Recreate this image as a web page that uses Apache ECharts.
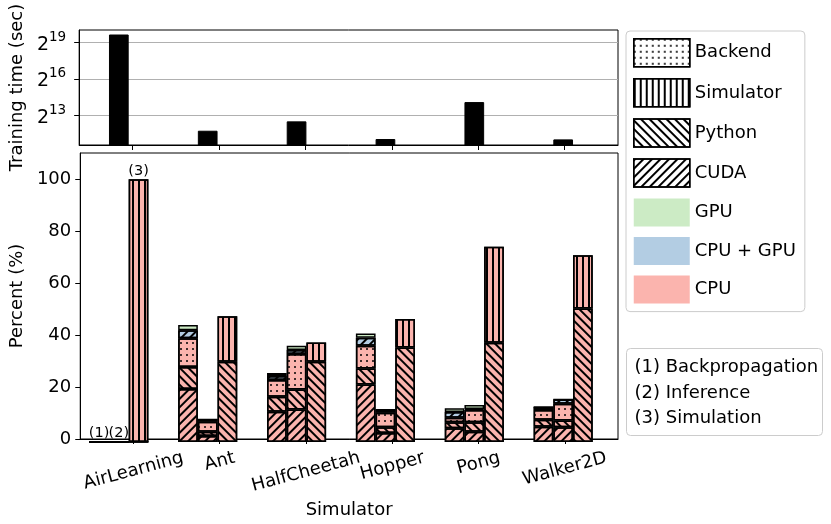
<!DOCTYPE html>
<html>
<head>
<meta charset="utf-8">
<script src="https://cdn.jsdelivr.net/npm/echarts@6.0.0/dist/echarts.min.js"></script>
<style>html,body{margin:0;padding:0;background:#fff}#c{width:831px;height:524px}</style>
</head>
<body>
<div id="c"></div>
<script>
// ---------------- data ----------------
const simulators = ['AirLearning', 'Ant', 'HalfCheetah', 'Hopper', 'Pong', 'Walker2D'];
const trainingTimeSec = [811400, 3420, 5830, 2135, 17440, 2090];
const timeTickValues = [8192, 65536, 524288];           // 2^13, 2^16, 2^19
const percentTicks = [0, 20, 40, 60, 80, 100];
const phaseNames = ['(1) Backpropagation', '(2) Inference', '(3) Simulation'];
const phaseTags = ['(1)', '(2)', '(3)'];
// (1) Backpropagation: segment heights (%)
const bpCuda    = [0, 20.2, 11.5, 21.9, 5.2, 5.8];
const bpPython  = [0, 8.3, 5.7, 6.1, 2.3, 2.7];
const bpBackend = [0, 11.0, 6.4, 8.6, 1.7, 3.7];
const bpCpuGpu  = [0, 3.0, 1.5, 3.1, 2.2, 1.1];
const bpGpu     = [0, 2.0, 1.2, 1.6, 1.4, 0];
// (2) Inference
const infCuda    = [0, 2.3, 12.4, 3.4, 3.9, 5.6];
const infPython  = [0, 1.6, 7.6, 2.2, 3.6, 2.6];
const infBackend = [0, 3.8, 13.5, 5.5, 4.7, 6.4];
const infCpuGpu  = [0, 0.9, 1.5, 1.2, 0.4, 1.6];
const infGpu     = [0, 0, 1.6, 0, 1.5, 0];
// (3) Simulation
const simPython    = [0, 30.5, 30.5, 36.0, 37.8, 50.8];
const simSimulator = [100, 17.4, 7.4, 10.8, 36.5, 20.3];

// ---------------- style / layout ----------------
const FONT = 'DejaVu Sans';
const PINK = '#fbb4ae', BLUE = '#b3cde3', GREEN = '#ccebc5';
const BW = 19.7;
const X_MIN = -0.617, X_MAX = 5.617;
const FRAME_LEFT = 64, FRAME_W = 554;
const UNIT = FRAME_W / (X_MAX - X_MIN);
const DATA_LEFT = FRAME_LEFT + (-0.5 - X_MIN) * UNIT, DATA_W = simulators.length * UNIT;
const TOP = {top: 30, height: 115}, BOT = {top: 153, height: 289};
const T_MIN = 1520, T_MAX = 1048576, P_MIN = 0, P_MAX = 110;
const LABEL_ROT = 15 * Math.PI / 180;

const decals = {
  cuda:      {symbol: 'rect', symbolSize: 1, dashArrayX: [1, 0], dashArrayY: [1.5, 3.5], rotation: -Math.PI / 4, color: '#000'},
  python:    {symbol: 'rect', symbolSize: 1, dashArrayX: [1, 0], dashArrayY: [1.5, 3.5], rotation: Math.PI / 4, color: '#000'},
  simulator: {symbol: 'rect', symbolSize: 1, dashArrayX: [1.5, 3.5], dashArrayY: [1, 0], rotation: 0, color: '#000'},
  backend:   {symbol: 'circle', symbolSize: 1, dashArrayX: [2, 4], dashArrayY: [2, 4], rotation: 0, color: '#000'}
};

function seg(name, stack, arr, color, decal, tag) {
  const data = arr.map((v, i) => {
    if (tag && i === 0) {
      return {value: v, label: {show: true, position: 'top', distance: 1, formatter: tag,
        fontSize: 14.5, fontFamily: FONT, color: '#000'}};
    }
    return v;
  });
  return {
    name: name, type: 'bar', stack: stack, xAxisIndex: 3, yAxisIndex: 3,
    barWidth: BW, barGap: '0%',
    itemStyle: {color: color, borderColor: '#000', borderWidth: 1.5, decal: decal || null},
    emphasis: {disabled: true},
    data: data
  };
}
function legendProxy(name, color, decal, bordered) {
  return {
    name: name, type: 'bar', stack: 'T', xAxisIndex: 2, yAxisIndex: 2, barWidth: BW, data: [],
    itemStyle: {color: color, borderColor: bordered ? '#000' : color, borderWidth: bordered ? 1.5 : 0, decal: decal || null}
  };
}

const catTicks = simulators.map((s, i) => i);
const frameX = {
  type: 'value', min: X_MIN, max: X_MAX,
  axisLine: {show: true, onZero: false, lineStyle: {color: '#000', width: 1}},
  axisTick: {show: true, length: 5, inside: false, customValues: catTicks, lineStyle: {color: '#000', width: 1}},
  axisLabel: {show: false},
  splitLine: {show: false}
};
const hiddenAxis = {show: false, axisLine: {show: false}, axisTick: {show: false}, axisLabel: {show: false}, splitLine: {show: false}};

const series = [
  {name: 'time', type: 'bar', stack: 'T', xAxisIndex: 2, yAxisIndex: 2, barWidth: BW,
   itemStyle: {color: '#000', borderColor: '#000', borderWidth: 1}, emphasis: {disabled: true},
   data: trainingTimeSec},
  legendProxy('Backend', '#fff', decals.backend, true),
  legendProxy('Simulator', '#fff', decals.simulator, true),
  legendProxy('Python', '#fff', decals.python, true),
  legendProxy('CUDA', '#fff', decals.cuda, true),
  legendProxy('GPU', GREEN, null, false),
  legendProxy('CPU + GPU', BLUE, null, false),
  legendProxy('CPU', PINK, null, false),
  seg('bp-cuda', 'bp', bpCuda, PINK, decals.cuda),
  seg('bp-python', 'bp', bpPython, PINK, decals.python),
  seg('bp-backend', 'bp', bpBackend, PINK, decals.backend),
  seg('bp-cpugpu', 'bp', bpCpuGpu, BLUE, decals.cuda),
  seg('bp-gpu', 'bp', bpGpu, GREEN, null, phaseTags[0]),
  seg('inf-cuda', 'inf', infCuda, PINK, decals.cuda),
  seg('inf-python', 'inf', infPython, PINK, decals.python),
  seg('inf-backend', 'inf', infBackend, PINK, decals.backend),
  seg('inf-cpugpu', 'inf', infCpuGpu, BLUE, decals.cuda),
  seg('inf-gpu', 'inf', infGpu, GREEN, null, phaseTags[1]),
  seg('sim-python', 'sim', simPython, PINK, decals.python),
  seg('sim-simulator', 'sim', simSimulator, PINK, decals.simulator, phaseTags[2])
];

const legendItems = [
  {name: 'Backend', itemStyle: {color: '#fff', borderColor: '#000', borderWidth: 1.5}},
  {name: 'Simulator', itemStyle: {color: '#fff', borderColor: '#000', borderWidth: 1.5}},
  {name: 'Python', itemStyle: {color: '#fff', borderColor: '#000', borderWidth: 1.5}},
  {name: 'CUDA', itemStyle: {color: '#fff', borderColor: '#000', borderWidth: 1.5}},
  {name: 'GPU', itemStyle: {color: GREEN, borderWidth: 0}},
  {name: 'CPU + GPU', itemStyle: {color: BLUE, borderWidth: 0}},
  {name: 'CPU', itemStyle: {color: PINK, borderWidth: 0}}
];

const phaseBox = {
  id: 'phaseBox', type: 'group', left: 626, top: 348,
  children: [
    {type: 'rect', shape: {x: 0, y: 0, width: 196, height: 87, r: 4}, style: {fill: '#fff', stroke: '#cccccc', lineWidth: 1}}
  ].concat(phaseNames.map((t, i) => ({
    type: 'text', x: 8, y: 19 + i * 25.5,
    style: {text: t, font: '18px "DejaVu Sans"', fill: '#000', verticalAlign: 'middle'}
  })))
};

const option = {
  animation: false,
  textStyle: {fontFamily: FONT},
  grid: [
    Object.assign({left: FRAME_LEFT, width: FRAME_W, show: true, borderColor: '#000', borderWidth: 1, backgroundColor: 'transparent'}, TOP),
    Object.assign({left: FRAME_LEFT, width: FRAME_W, show: true, borderColor: '#000', borderWidth: 1, backgroundColor: 'transparent'}, BOT),
    Object.assign({left: DATA_LEFT, width: DATA_W, show: false}, TOP),
    Object.assign({left: DATA_LEFT, width: DATA_W, show: false}, BOT)
  ],
  xAxis: [
    Object.assign({}, frameX, {gridIndex: 0}),
    Object.assign({}, frameX, {gridIndex: 1,
      name: 'Simulator', nameLocation: 'middle', nameGap: 62,
      nameTextStyle: {fontSize: 18, fontFamily: FONT, color: '#000'}}),
    Object.assign({type: 'category', gridIndex: 2, data: simulators, boundaryGap: true}, hiddenAxis),
    Object.assign({type: 'category', gridIndex: 3, data: simulators, boundaryGap: true}, hiddenAxis)
  ],
  yAxis: [
    {type: 'log', logBase: 2, gridIndex: 0, min: T_MIN, max: T_MAX,
     name: 'Training time (sec)', nameLocation: 'middle', nameGap: 40, nameRotate: 90,
     nameTextStyle: {fontSize: 18, fontFamily: FONT, color: '#000'},
     axisLine: {show: true, onZero: false, lineStyle: {color: '#000', width: 1}},
     axisTick: {show: true, length: 5, customValues: timeTickValues, lineStyle: {color: '#000'}},
     splitLine: {show: true, lineStyle: {color: '#b0b0b0', width: 1.2}},
     axisLabel: {show: true, margin: 13, customValues: timeTickValues,
       formatter: v => '{b|2}{s|' + Math.round(Math.log2(v)) + '}',
       rich: {b: {fontSize: 19, fontFamily: FONT, color: '#000', lineHeight: 24, verticalAlign: 'bottom'},
              s: {fontSize: 13.5, fontFamily: FONT, color: '#000', lineHeight: 15, verticalAlign: 'top'}}}
    },
    {type: 'value', gridIndex: 1, min: P_MIN, max: P_MAX,
     name: 'Percent (%)', nameLocation: 'middle', nameGap: 40, nameRotate: 90,
     nameTextStyle: {fontSize: 18, fontFamily: FONT, color: '#000'},
     axisLine: {show: true, onZero: false, lineStyle: {color: '#000', width: 1}},
     axisTick: {show: true, length: 5, customValues: percentTicks, lineStyle: {color: '#000'}},
     splitLine: {show: false},
     axisLabel: {show: true, margin: 9, fontSize: 18, fontFamily: FONT, color: '#000', customValues: percentTicks}
    },
    Object.assign({type: 'log', logBase: 2, gridIndex: 2, min: T_MIN, max: T_MAX}, hiddenAxis),
    Object.assign({type: 'value', gridIndex: 3, min: P_MIN, max: P_MAX}, hiddenAxis)
  ],
  legend: {
    orient: 'vertical', left: 626, top: 31, icon: 'rect', selectedMode: false,
    itemWidth: 56, itemHeight: 28, itemGap: 10.6,
    padding: [7, 9, 8, 7], backgroundColor: '#fff', borderColor: '#cccccc', borderWidth: 1, borderRadius: 4,
    textStyle: {fontSize: 18, fontFamily: FONT, color: '#000'},
    data: legendItems
  },
  graphic: [phaseBox],
  series: series
};
const chart = echarts.init(document.getElementById('c'));
chart.setOption(option);

// category tick labels: rotated 15°, centred under each tick (matplotlib style)
const ctx = document.createElement('canvas').getContext('2d');
ctx.font = '18px "DejaVu Sans"';
const axisY = chart.convertToPixel({yAxisIndex: 1}, P_MIN);
const catLabels = simulators.map((s, i) => {
  const x = chart.convertToPixel({xAxisIndex: 1}, i);
  const w = ctx.measureText(s).width;
  const cy = axisY + 8.5 + (w / 2) * Math.sin(LABEL_ROT) + 10.5 * Math.cos(LABEL_ROT);
  return {
    id: 'cat' + i, type: 'text', x: x, y: cy, rotation: LABEL_ROT,
    style: {text: s, font: '18px "DejaVu Sans"', fill: '#000', align: 'center', verticalAlign: 'middle'}
  };
});
chart.setOption({graphic: [phaseBox].concat(catLabels)});
</script>
</body>
</html>
